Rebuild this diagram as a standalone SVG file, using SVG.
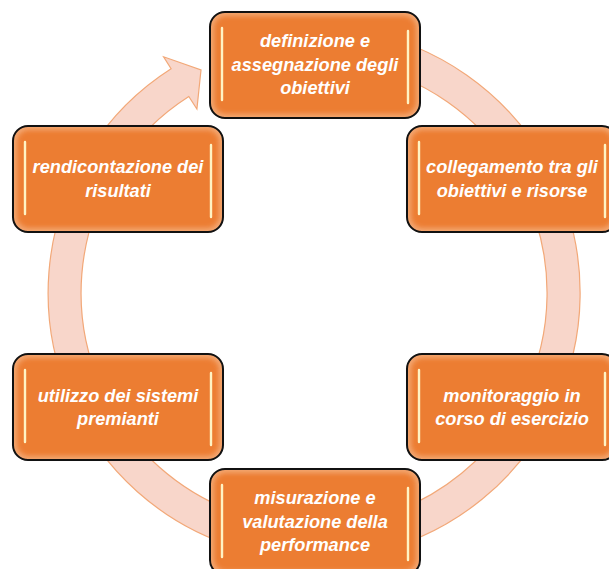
<svg xmlns="http://www.w3.org/2000/svg" width="609" height="569" viewBox="0 0 609 569">
<style>
.edge{fill:#F3A772}
.core{fill:#EC7D32;filter:url(#soft)}
.frame{fill:none;stroke:#111;stroke-width:2}
.glow{stroke:#FFD88A;stroke-width:5;stroke-linecap:round;opacity:.7;filter:url(#soft2)}
.bar{stroke:#FFF3C4;stroke-width:2.4;stroke-linecap:round}
.lbl{font-family:"Liberation Sans",Arial,sans-serif;font-weight:bold;font-style:italic;font-size:18.2px;fill:#fff;text-anchor:middle}
.ring{fill:#F8D6CA;stroke:#F2A878;stroke-width:1.2}
</style>
<defs>
<filter id="soft" x="-10%" y="-10%" width="120%" height="120%"><feGaussianBlur stdDeviation="2.6"/></filter>
<filter id="soft2" x="-200%" y="-20%" width="500%" height="140%"><feGaussianBlur stdDeviation="1.2"/></filter>
</defs>
<rect width="609" height="569" fill="#fff"/>
<g id="connectors">
<path class="ring" d="M 360.2 31 A 266 266 0 1 1 171.1 68.7 L 163.6 56.8 L 201 70 L 196.9 109.1 L 188.8 96.5 A 233 233 0 1 0 354.5 63.5 Z"/>
</g>
<g id="n1">
<rect class="edge" x="210" y="12" width="210" height="106" rx="15"/>
<rect class="core" x="214" y="16" width="202" height="98" rx="12"/>
<line class="glow" x1="222" y1="28" x2="222" y2="100"/><line class="bar" x1="222" y1="28" x2="222" y2="100"/>
<line class="glow" x1="408" y1="31" x2="408" y2="103"/><line class="bar" x1="408" y1="31" x2="408" y2="103"/>
<rect class="frame" x="210" y="12" width="210" height="106" rx="15"/>
<text class="lbl" x="315" y="47">definizione e</text>
<text class="lbl" x="315" y="70.5">assegnazione degli</text>
<text class="lbl" x="315" y="94">obiettivi</text>
</g>
<g id="n2">
<rect class="edge" x="407" y="126" width="210" height="106" rx="15"/>
<rect class="core" x="411" y="130" width="202" height="98" rx="12"/>
<line class="glow" x1="419" y1="142" x2="419" y2="214"/><line class="bar" x1="419" y1="142" x2="419" y2="214"/>
<line class="glow" x1="605" y1="145" x2="605" y2="217"/><line class="bar" x1="605" y1="145" x2="605" y2="217"/>
<rect class="frame" x="407" y="126" width="210" height="106" rx="15"/>
<text class="lbl" x="512" y="173">collegamento tra gli</text>
<text class="lbl" x="512" y="196.5">obiettivi e risorse</text>
</g>
<g id="n3">
<rect class="edge" x="407" y="354" width="210" height="106" rx="15"/>
<rect class="core" x="411" y="358" width="202" height="98" rx="12"/>
<line class="glow" x1="419" y1="370" x2="419" y2="442"/><line class="bar" x1="419" y1="370" x2="419" y2="442"/>
<line class="glow" x1="605" y1="373" x2="605" y2="445"/><line class="bar" x1="605" y1="373" x2="605" y2="445"/>
<rect class="frame" x="407" y="354" width="210" height="106" rx="15"/>
<text class="lbl" x="512" y="401.5">monitoraggio in</text>
<text class="lbl" x="512" y="425">corso di esercizio</text>
</g>
<g id="n4">
<rect class="edge" x="210" y="469" width="210" height="106" rx="15"/>
<rect class="core" x="214" y="473" width="202" height="98" rx="12"/>
<line class="glow" x1="222" y1="485" x2="222" y2="557"/><line class="bar" x1="222" y1="485" x2="222" y2="557"/>
<line class="glow" x1="408" y1="488" x2="408" y2="560"/><line class="bar" x1="408" y1="488" x2="408" y2="560"/>
<rect class="frame" x="210" y="469" width="210" height="106" rx="15"/>
<text class="lbl" x="315" y="504">misurazione e</text>
<text class="lbl" x="315" y="527.5">valutazione della</text>
<text class="lbl" x="315" y="551">performance</text>
</g>
<g id="n5">
<rect class="edge" x="13" y="354" width="210" height="106" rx="15"/>
<rect class="core" x="17" y="358" width="202" height="98" rx="12"/>
<line class="glow" x1="25" y1="370" x2="25" y2="442"/><line class="bar" x1="25" y1="370" x2="25" y2="442"/>
<line class="glow" x1="211" y1="373" x2="211" y2="445"/><line class="bar" x1="211" y1="373" x2="211" y2="445"/>
<rect class="frame" x="13" y="354" width="210" height="106" rx="15"/>
<text class="lbl" x="118" y="401.5">utilizzo dei sistemi</text>
<text class="lbl" x="118" y="425">premianti</text>
</g>
<g id="n6">
<rect class="edge" x="13" y="126" width="210" height="106" rx="15"/>
<rect class="core" x="17" y="130" width="202" height="98" rx="12"/>
<line class="glow" x1="25" y1="142" x2="25" y2="214"/><line class="bar" x1="25" y1="142" x2="25" y2="214"/>
<line class="glow" x1="211" y1="145" x2="211" y2="217"/><line class="bar" x1="211" y1="145" x2="211" y2="217"/>
<rect class="frame" x="13" y="126" width="210" height="106" rx="15"/>
<text class="lbl" x="118" y="173">rendicontazione dei</text>
<text class="lbl" x="118" y="196.5">risultati</text>
</g>
</svg>
